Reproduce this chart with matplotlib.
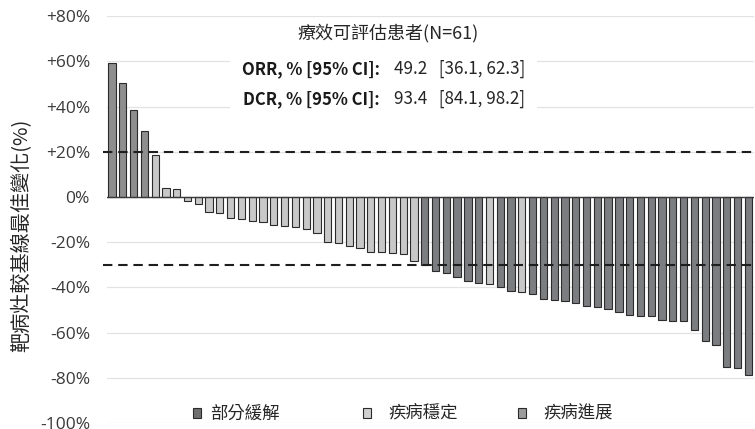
import matplotlib
matplotlib.use("Agg")
import matplotlib.pyplot as plt
from matplotlib.patches import Rectangle, Patch
import numpy as np

plt.rcParams['font.family'] = ['Noto Sans CJK TC', 'DejaVu Sans']

# best change from baseline per patient (%), sorted
changes = [59.4, 50.6, 38.5, 29.1, 18.6, 3.8, 3.4, -1.6, -3.2, -6.8,
           -7.1, -9.1, -9.6, -10.5, -10.9, -12.4, -13.0, -13.4, -14.3, -16.0,
           -20.1, -20.4, -21.7, -22.4, -24.3, -24.4, -24.8, -25.4, -28.1, -30.0,
           -32.6, -33.8, -35.3, -37.2, -38.2, -38.3, -39.8, -41.5, -42.2, -42.8,
           -45.1, -45.7, -46.2, -47.1, -48.2, -48.7, -49.4, -50.9, -52.2, -52.5,
           -52.5, -54.4, -54.9, -54.9, -59.0, -63.7, -65.6, -75.2, -75.5, -78.9]
# PR = 部分緩解, SD = 疾病穩定, PD = 疾病進展
response = ['PD'] * 4 + ['SD'] * 25 + ['PR'] * 6 + ['SD'] + ['PR'] * 2 + ['SD'] + ['PR'] * 21

labels = {'PR': '部分緩解', 'SD': '疾病穩定', 'PD': '疾病進展'}
colors = {'PR': '#7c7d81', 'SD': '#c8c8c8', 'PD': '#8e8e8e'}
legend_colors = {'PR': '#6f6f6f', 'SD': '#d0d0d0', 'PD': '#9c9c9c'}
legend_x = {'PR': 193, 'SD': 363, 'PD': 518}   # pixel x of each legend square
legend_pad = {'PR': 0.5, 'SD': 1.0, 'PD': 1.0}

yticks = [80, 60, 40, 20, 0, -20, -40, -60, -80, -100]
ytick_labels = ['+80%', '+60%', '+40%', '+20%', '0%', '-20%', '-40%', '-60%', '-80%', '-100%']

W, H = 755, 429
fig = plt.figure(figsize=(W / 100, H / 100), dpi=100)
ax = fig.add_axes([106.6 / W, 6 / H, 647.1 / W, 406.8 / H])

x = np.arange(len(changes))
ax.bar(x, changes, width=0.67, color=[colors[r] for r in response],
       edgecolor='#2b2b2b', linewidth=0.8, zorder=2)

ax.set_xlim(-0.5, len(changes) - 0.5)
ax.set_ylim(-100, 80)
ax.set_yticks(yticks)
ax.set_yticklabels(ytick_labels, family=['Open Sans', 'DejaVu Sans'], fontsize=12.5, color='#3a3a3a')
ax.tick_params(axis='y', length=0, pad=12)
ax.set_xticks([])
for s in ax.spines.values():
    s.set_visible(False)
ax.yaxis.grid(True, color='#e3e3e3', linewidth=0.9, zorder=0)
ax.set_axisbelow(True)

ax.axhline(0, color='#3a3a3a', linewidth=1.0, zorder=3)
for lvl in (20, -30):
    ax.axhline(lvl, xmin=-0.006, xmax=1.003, color='#1e1e1e', linewidth=1.5,
               dashes=(4.5, 2.8), zorder=4, clip_on=False)

ax.set_ylabel('靶病灶較基線最佳變化(%)', fontsize=14.5, color='#262626')
ax.yaxis.set_label_coords((32 - 106.6) / 647.1, 0.462)

# white box behind the summary text
fig.patches.append(Rectangle((230 / W, 1 - 116 / H), 307 / W, 70 / H,
                             transform=fig.transFigure, facecolor='white',
                             edgecolor='none', zorder=1))

fig.text(388 / W, 1 - 33.5 / H, '療效可評估患者(N=61)', ha='center', va='center',
         fontsize=13, color='#262626', zorder=5)
fig.text(380 / W, 1 - 69 / H, 'ORR, % [95% CI]:', ha='right', va='center',
         fontsize=12, fontweight='bold', color='#1a1a1a', zorder=5)
fig.text(394 / W, 1 - 69 / H, '49.2   [36.1, 62.3]', ha='left', va='center',
         fontsize=12.3, color='#262626', zorder=5)
fig.text(380 / W, 1 - 99 / H, 'DCR, % [95% CI]:', ha='right', va='center',
         fontsize=12, fontweight='bold', color='#1a1a1a', zorder=5)
fig.text(394 / W, 1 - 99 / H, '93.4   [84.1, 98.2]', ha='left', va='center',
         fontsize=12.3, color='#262626', zorder=5)

for k in ('PR', 'SD', 'PD'):
    h = Patch(facecolor=legend_colors[k], edgecolor='#2b2b2b', linewidth=0.8, label=labels[k])
    fig.legend(handles=[h], loc='center left',
               bbox_to_anchor=(legend_x[k] / W, 1 - 414 / H),
               frameon=False, fontsize=12.5, handlelength=0.47, handleheight=0.47,
               handletextpad=legend_pad[k], borderpad=0, borderaxespad=0,
               labelcolor='#262626')

fig.savefig('out.png', dpi=100)
